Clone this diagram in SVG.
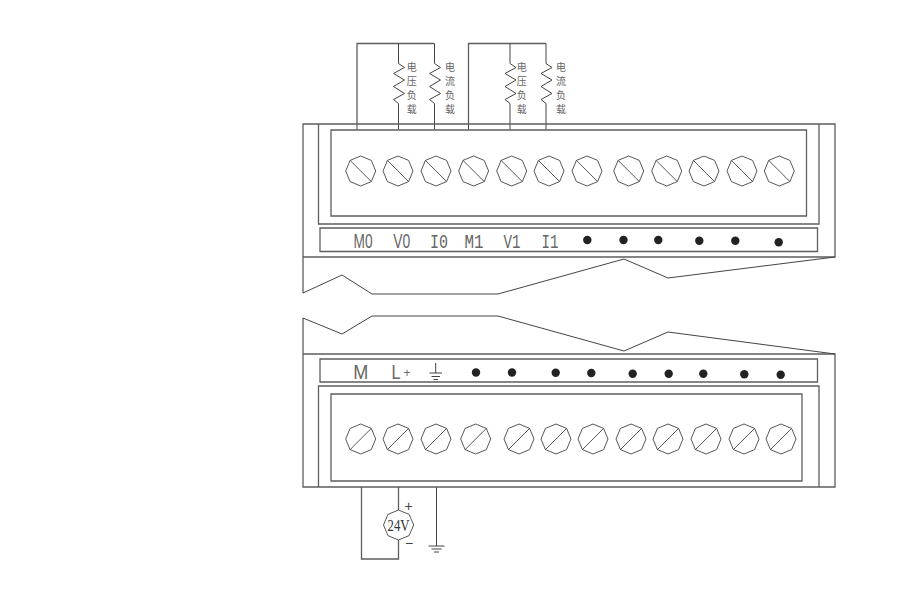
<svg xmlns="http://www.w3.org/2000/svg" width="917" height="600" viewBox="0 0 917 600">
<style>
.l{fill:none;stroke:#444;stroke-width:1}
.f{fill:none;stroke:#5e5e5e;stroke-width:1.3}
.s{fill:#fff;stroke:#444;stroke-width:.9}
.d{fill:#222}
.t{font-family:"Liberation Sans",sans-serif;fill:#666;font-size:20px;text-anchor:middle}
.m{font-family:"Liberation Mono",monospace}
.c{font-family:"Noto Sans CJK SC","Noto Sans",sans-serif;fill:#666;font-size:10px;text-anchor:middle}
</style>
<defs>
<g id="a"><polygon class="s" points="15,0 10.6,10.6 0,15 -10.6,10.6 -15,0 -10.6,-10.6 0,-15 10.6,-10.6"/><line class="s" x1="-10.6" y1="-10.6" x2="10.6" y2="10.6"/></g>
<g id="b"><polygon class="s" points="15,0 10.6,10.6 0,15 -10.6,10.6 -15,0 -10.6,-10.6 0,-15 10.6,-10.6"/><line class="s" x1="-10.6" y1="10.6" x2="10.6" y2="-10.6"/></g>
<path id="z" class="l" d="M0,0V20L6,24 -5,30 6,36.500 -5,43 6,50 -5,56 0,60V86"/>
</defs>
<g id="connectors">
<path class="f" d="M357,124V43.500H434.500M468.500,124V43.500H546"/>
<use href="#z" x="398.500" y="43.500"/><use href="#z" x="434.500" y="43.500"/><use href="#z" x="510" y="43.500"/><use href="#z" x="546" y="43.500"/>
<path class="l" d="M357,124V130M468.500,124V130"/>
<path class="f" d="M398.500,510V487M398.500,540V559H361.500V487"/>
<path class="l" d="M436.500,487V546M428.500,546H444.500M431.500,549H441.500M434,552H439"/>
</g>
<g id="module-top">
<path class="f" d="M303,293V124H835V257H303M318.500,124V224H819V124M331,130H806.500V216H331ZM320,228H817.500V251.500H320Z"/>
<path class="l" d="M303,293 342,275 372,294H498L624,259 668,278 835,257"/>
</g>
<g id="module-bottom">
<path class="f" d="M303,318V487H835V354H303M318.500,487V386H819V487M331,394H802V481H331ZM320,359H817.500V382H320Z"/>
<path class="l" d="M303,318 342,334 372,316H498L624,351 668,332 835,354"/>
</g>
<g id="terminals-top">
<use href="#a" x="360.700" y="171"/><use href="#a" x="398" y="171"/><use href="#a" x="436" y="171"/><use href="#a" x="473.600" y="171"/><use href="#a" x="511.700" y="171"/><use href="#a" x="549" y="171"/><use href="#a" x="587" y="171"/><use href="#a" x="628.700" y="171"/><use href="#a" x="666.700" y="171"/><use href="#a" x="704" y="171"/><use href="#a" x="742" y="171"/><use href="#a" x="779.300" y="171"/>
</g>
<g id="terminals-bottom">
<use href="#b" x="360.700" y="439"/><use href="#b" x="398" y="439"/><use href="#b" x="436" y="439"/><use href="#b" x="475.700" y="439"/><use href="#b" x="519" y="439"/><use href="#b" x="556" y="439"/><use href="#b" x="593" y="439"/><use href="#b" x="631" y="439"/><use href="#b" x="668" y="439"/><use href="#b" x="706" y="439"/><use href="#b" x="744" y="439"/><use href="#b" x="781" y="439"/>
</g>
<g id="labels-top">
<text class="t" x="363" y="248" textLength="19" lengthAdjust="spacingAndGlyphs">M0</text>
<text class="t" x="401.700" y="248" textLength="17" lengthAdjust="spacingAndGlyphs">V0</text>
<text class="t m" x="439" y="248" textLength="18" lengthAdjust="spacingAndGlyphs">I0</text>
<text class="t m" x="474" y="248" textLength="19" lengthAdjust="spacingAndGlyphs">M1</text>
<text class="t m" x="512" y="248" textLength="17" lengthAdjust="spacingAndGlyphs">V1</text>
<text class="t m" x="550" y="248" textLength="17" lengthAdjust="spacingAndGlyphs">I1</text>
<circle class="d" cx="587.300" cy="240" r="4.200"/><circle class="d" cx="623.500" cy="240" r="4.200"/><circle class="d" cx="658.300" cy="240" r="4.200"/><circle class="d" cx="699.300" cy="240.700" r="4.200"/><circle class="d" cx="735.300" cy="240.700" r="4.200"/><circle class="d" cx="778.700" cy="242.300" r="4.200"/>
</g>
<g id="labels-bottom">
<text class="t" x="360.700" y="378.500" style="font-size:21px" textLength="15" lengthAdjust="spacingAndGlyphs">M</text>
<text class="t" x="396" y="378.500" style="font-size:21px" textLength="9" lengthAdjust="spacingAndGlyphs">L</text>
<text class="t" x="407" y="377" style="font-size:12px">+</text>
<path class="l" d="M435.700,363V373M429.500,373H442M431.500,376.500H440M433.500,379.500H438"/>
<circle class="d" cx="476" cy="372.500" r="4.200"/><circle class="d" cx="512" cy="372.500" r="4.200"/><circle class="d" cx="555.700" cy="372.700" r="4.200"/><circle class="d" cx="591.300" cy="373" r="4.200"/><circle class="d" cx="632.700" cy="373.700" r="4.200"/><circle class="d" cx="668.700" cy="373.700" r="4.200"/><circle class="d" cx="703.300" cy="373.700" r="4.200"/><circle class="d" cx="744.300" cy="374.300" r="4.200"/><circle class="d" cx="780.700" cy="374.700" r="4.200"/>
</g>
<g id="load-1"><text class="c"><tspan x="411.700" y="71">电</tspan><tspan x="411.700" y="85">压</tspan><tspan x="411.700" y="99">负</tspan><tspan x="411.700" y="113">载</tspan></text></g>
<g id="load-2"><text class="c"><tspan x="450" y="71">电</tspan><tspan x="450" y="85">流</tspan><tspan x="450" y="99">负</tspan><tspan x="450" y="113">载</tspan></text></g>
<g id="load-3"><text class="c"><tspan x="521.700" y="71">电</tspan><tspan x="521.700" y="85">压</tspan><tspan x="521.700" y="99">负</tspan><tspan x="521.700" y="113">载</tspan></text></g>
<g id="load-4"><text class="c"><tspan x="561" y="71">电</tspan><tspan x="561" y="85">流</tspan><tspan x="561" y="99">负</tspan><tspan x="561" y="113">载</tspan></text></g>
<g id="supply">
<polygon class="s" points="413.700,525 409.100,535.600 398.500,540 387.900,535.600 383.500,525 387.900,514.400 398.500,510 409.100,514.400"/>
<text x="398.500" y="531" text-anchor="middle" textLength="22" lengthAdjust="spacingAndGlyphs" style="font-family:'Liberation Serif',serif;font-size:17px;fill:#333">24V</text>
<text class="t" x="408.700" y="511" style="font-size:14px;fill:#444">+</text>
<text class="t" x="409" y="548" style="font-size:14px;fill:#444">−</text>
</g>
</svg>
